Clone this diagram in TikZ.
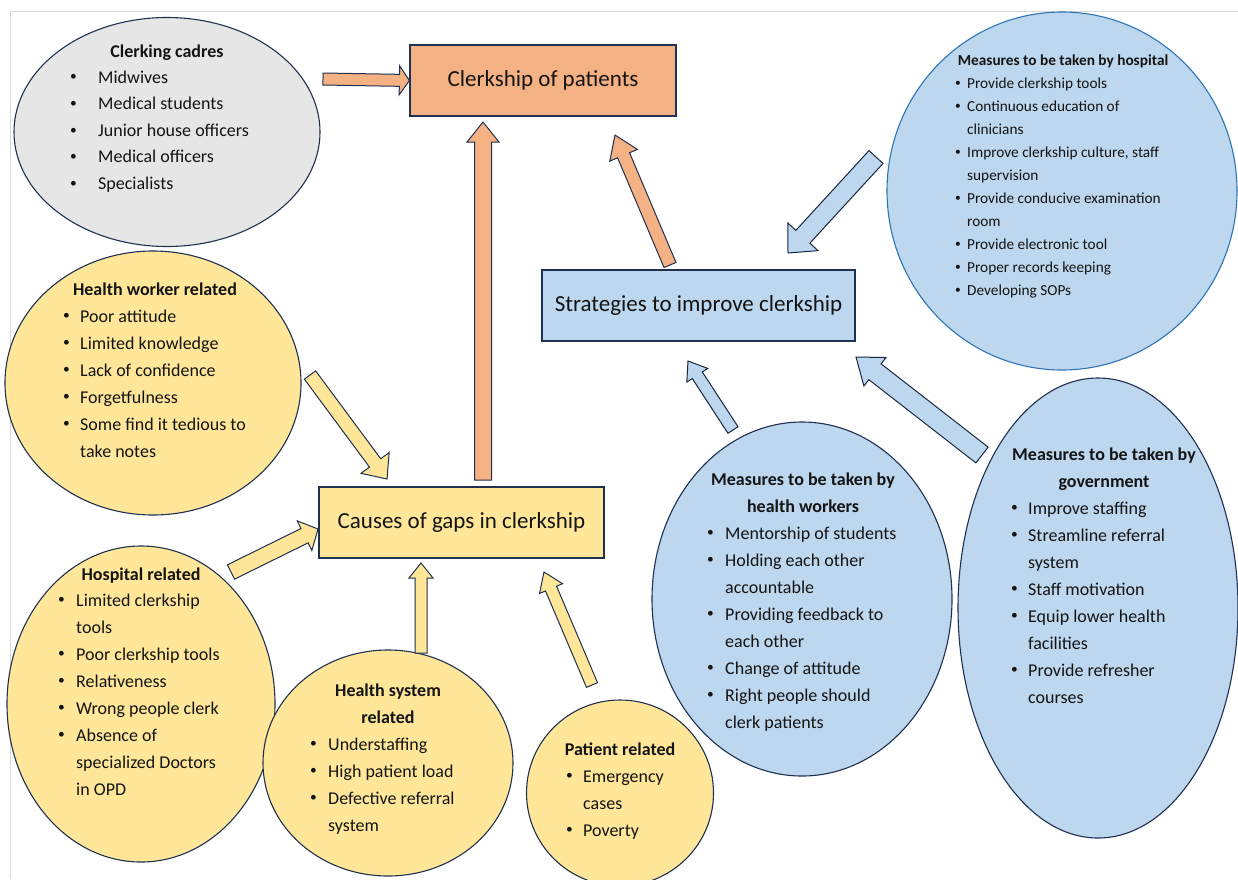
\documentclass[tikz,border=0pt]{standalone}
\usepackage{fontspec}
\setmainfont{Carlito}
\usetikzlibrary{calc,shapes.geometric}
\definecolor{navy}{HTML}{1F3050}
\definecolor{orangef}{HTML}{F4B183}
\definecolor{yellowf}{HTML}{FFE699}
\definecolor{bluef}{HTML}{BDD7EE}
\definecolor{grayf}{HTML}{E6E6E6}
\definecolor{brightblue}{HTML}{2E75B6}
\definecolor{framegray}{HTML}{D9D9D9}
\definecolor{txt}{HTML}{141414}
\newlength\bw
\newcommand\smallbullet{\raisebox{0.12em}{\scalebox{0.75}{\textbullet}}}
\newcommand\bi[1]{\hbox{\hbox to\bw{\smallbullet\hss}#1}}
\newcommand\bc[1]{\hbox{\hskip\bw #1}}
\newcommand\blist[3]{\vtop{\bw=#2\relax\baselineskip=#1\relax\lineskiplimit=-20pt #3}}
% block arrow: style, from, to, half shaft, half head, head length
\newcommand\barrow[6]{%
  \coordinate (tmp) at ($(#3)!#6!(#2)$);
  \draw[#1] ($(#2)!#4!90:(#3)$) -- ($(tmp)!#4!90:(#3)$) -- ($(tmp)!#5!90:(#3)$) -- (#3)
    -- ($(tmp)!#5!-90:(#3)$) -- ($(tmp)!#4!-90:(#3)$) -- ($(#2)!#4!-90:(#3)$) -- cycle;}
\tikzset{
  bubble/.style={ellipse, draw=navy, line width=1.1pt, inner sep=0pt},
  boxnode/.style={rectangle, draw=navy, line width=1.2pt, inner sep=0pt, text=txt,
    font=\fontsize{23}{27}\selectfont},
  ttl/.style={anchor=base, inner sep=0pt, text=txt, font=\bfseries\fontsize{18}{27}\selectfont},
  lst/.style={anchor=base west, inner sep=0pt, text=txt, font=\fontsize{18}{27}\selectfont},
  oarr/.style={fill=orangef, draw=navy, line width=1pt, line join=miter},
  yarr/.style={fill=yellowf, draw=navy, line width=1pt, line join=miter},
  barr/.style={fill=bluef, draw=navy!80!black, line width=1pt, line join=miter},
}
\begin{document}
\begin{tikzpicture}[x=1pt,y=-1pt]
\useasboundingbox (0,0) rectangle (1238,879);
\fill[white] (0,0) rectangle (1238,879);
\draw[framegray, line width=1pt] (1238,11) -- (10,11) -- (10,879);

% ellipses
\node[bubble, fill=grayf, minimum width=306pt, minimum height=229pt] (cad) at (167,132) {};
\node[bubble, fill=yellowf, minimum width=296pt, minimum height=264pt] (hwr) at (153,383) {};
\node[bubble, fill=yellowf, minimum width=268pt, minimum height=316pt] (hor) at (141,704) {};
\node[bubble, fill=yellowf, minimum width=250pt, minimum height=226pt] (hsr) at (388,763) {};
\node[bubble, fill=yellowf, minimum width=187pt, minimum height=186pt] (par) at (620,793) {};
\node[bubble, fill=bluef, minimum width=300pt, minimum height=354pt] (mhw) at (802,599) {};
\node[bubble, fill=bluef, minimum width=280pt, minimum height=460pt] (mgov) at (1098,608) {};
\node[bubble, fill=bluef, draw=brightblue, minimum width=350pt, minimum height=358pt] (mhos) at (1062,191) {};

% boxes
\node[boxnode, fill=orangef, minimum width=266pt, minimum height=71pt] (clk) at (543,80.5) {Clerkship of patients};
\node[boxnode, fill=bluef, minimum width=313pt, minimum height=71pt] (str) at (698.5,305.5) {Strategies to improve clerkship};
\node[boxnode, fill=yellowf, minimum width=285pt, minimum height=71pt] (cau) at (461.5,522.5) {Causes of gaps in clerkship};

% texts
\node[ttl] (cadT) at (167,57) {Clerking cadres};
\node[lst] (cadL) at (70,83) {\blist{26.6pt}{28pt}{\bi{Midwives}\bi{Medical students}\bi{Junior house officers}\bi{Medical officers}\bi{Specialists}}};

\node[ttl, font=\bfseries\fontsize{15.3}{23}\selectfont] (mhosT) at (1063,65) {Measures to be taken by hospital};
\node[lst, font=\fontsize{15.3}{23}\selectfont] (mhosL) at (955,88) {\blist{23pt}{12pt}{\bi{Provide clerkship tools}\bi{Continuous education of}\bc{clinicians}\bi{Improve clerkship culture, staff}\bc{supervision}\bi{Provide conducive examination}\bc{room}\bi{Provide electronic tool}\bi{Proper records keeping}\bi{Developing SOPs}}};

\node[ttl] (hwrT) at (155,295) {Health worker related};
\node[lst] (hwrL) at (63,322) {\blist{27pt}{17pt}{\bi{Poor attitude}\bi{Limited knowledge}\bi{Lack of confidence}\bi{Forgetfulness}\bi{Some find it tedious to}\bc{take notes}}};

\node[ttl] (horT) at (141,580) {Hospital related};
\node[lst] (horL) at (58,606) {\blist{27pt}{18pt}{\bi{Limited clerkship}\bc{tools}\bi{Poor clerkship tools}\bi{Relativeness}\bi{Wrong people clerk}\bi{Absence of}\bc{specialized Doctors}\bc{in OPD}}};

\node[ttl] (hsrT) at (388,696) {Health system};
\node[ttl] (hsrT2) at (388,723) {related};
\node[lst] (hsrL) at (310,750) {\blist{27pt}{18pt}{\bi{Understaffing}\bi{High patient load}\bi{Defective referral}\bc{system}}};

\node[ttl] (parT) at (620,755) {Patient related};
\node[lst] (parL) at (566,782) {\blist{27pt}{17pt}{\bi{Emergency}\bc{cases}\bi{Poverty}}};

\node[ttl] (mhwT) at (803,485) {Measures to be taken by};
\node[ttl] (mhwT2) at (803,512) {health workers};
\node[lst] (mhwL) at (707,539) {\blist{27pt}{18pt}{\bi{Mentorship of students}\bi{Holding each other}\bc{accountable}\bi{Providing feedback to}\bc{each other}\bi{Change of attitude}\bi{Right people should}\bc{clerk patients}}};

\node[ttl] (mgovT) at (1104,460) {Measures to be taken by};
\node[ttl] (mgovT2) at (1104,487) {government};
\node[lst] (mgovL) at (1011,514) {\blist{27pt}{17pt}{\bi{Improve staffing}\bi{Streamline referral}\bc{system}\bi{Staff motivation}\bi{Equip lower health}\bc{facilities}\bi{Provide refresher}\bc{courses}}};

% arrow end points
\coordinate (a1s) at (323,79);   \coordinate (a1e) at (clk.west);
\coordinate (a2s) at (483,480);  \coordinate (a2e) at (483,122);
\coordinate (a3s) at (670,265);  \coordinate (a3e) at (615,135);
\coordinate (a4s) at (876,157);  \coordinate (a4e) at (788,253);
\coordinate (a5s) at (733,430);  \coordinate (a5e) at (688,361);
\coordinate (a6s) at (982,455);  \coordinate (a6e) at (856,357);
\coordinate (a7s) at (310,375);  \coordinate (a7e) at (387,479);
\coordinate (a8s) at (231,572);  \coordinate (a8e) at (318,529);
\coordinate (a9s) at (421,653);  \coordinate (a9e) at (421,563);
\coordinate (a10s) at (592,685); \coordinate (a10e) at (544,572);

\barrow{oarr}{a1s}{a1e}{6pt}{14.5pt}{10pt}
\barrow{oarr}{a2s}{a2e}{8.5pt}{16pt}{20pt}
\barrow{oarr}{a3s}{a3e}{6.5pt}{15pt}{22pt}
\barrow{barr}{a4s}{a4e}{9.5pt}{20.5pt}{22pt}
\barrow{barr}{a5s}{a5e}{6pt}{12.5pt}{17pt}
\barrow{barr}{a6s}{a6e}{10pt}{18pt}{24pt}
\barrow{yarr}{a7s}{a7e}{7pt}{17.5pt}{20pt}
\barrow{yarr}{a8s}{a8e}{8pt}{16.5pt}{15pt}
\barrow{yarr}{a9s}{a9e}{6pt}{12pt}{15pt}
\barrow{yarr}{a10s}{a10e}{6pt}{12.5pt}{18pt}
\end{tikzpicture}
\end{document}
